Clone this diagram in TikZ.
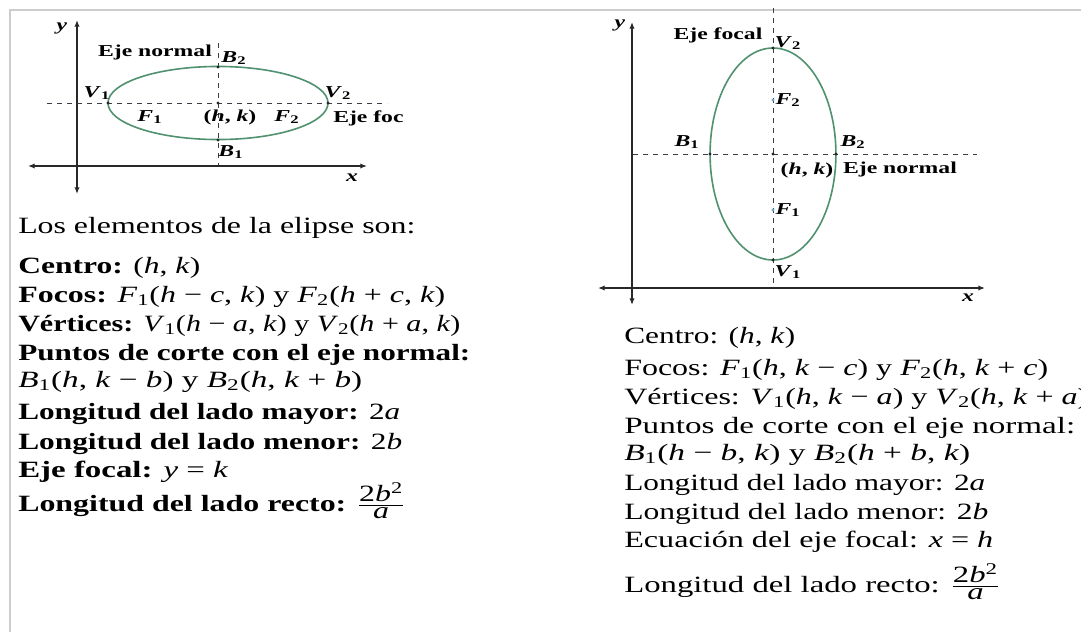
\documentclass[tikz,border=0pt]{standalone}
\usepackage{fontspec}
\setmainfont{Liberation Serif}
\usetikzlibrary{arrows.meta}
\definecolor{ellgreen}{RGB}{80,145,112}
\definecolor{framegray}{RGB}{205,205,205}
\definecolor{axisgray}{RGB}{40,40,40}
\definecolor{dashgray}{RGB}{60,60,70}
\definecolor{focblue}{RGB}{110,165,200}
\newdimen\pxu \pxu=0.75pt
\newcommand\mi[1]{\textit{#1}}
\newcommand\sbs[1]{\textsubscript{#1}}
\newcommand\fr[2]{$\frac{\mbox{#1}}{\mbox{#2}}$}
\newcommand\FW[2]{\resizebox{#1\pxu}{\height}{#2}}
\newcommand\DS[1]{\scalebox{1.42}[1]{#1}}
\tikzset{
  lt/.style={anchor=base west, inner sep=0pt, font=\fontsize{17.5}{20}\selectfont},
  dl/.style={inner sep=0pt, font=\fontsize{12.5}{14}\selectfont\bfseries},
  axisline/.style={axisgray, line width=1.1pt, {Latex[length=5pt,width=4pt]}-{Latex[length=5pt,width=4pt]}},
  dashline/.style={dashgray, line width=0.75pt, dash pattern=on 4pt off 3.5pt},
  ell/.style={ellgreen, line width=1.2pt},
  pt/.style={fill=axisgray},
}
\begin{document}
\begin{tikzpicture}[x=0.75pt,y=-0.75pt]
\useasboundingbox (0,0) rectangle (1081,632);
\fill[white] (0,0) rectangle (1081,632);
% frame
\draw[framegray, line width=1.4pt] (10,632) -- (10,10) -- (1081,10);

% ---------- left diagram ----------
\coordinate (Lc) at (218,103);
\coordinate (LV1) at (108,103);
\coordinate (LV2) at (328,103);
\coordinate (LB2) at (218,67);
\coordinate (LB1) at (218,140);
\coordinate (Lyt) at (77,20);
\coordinate (Lyb) at (77,194);
\coordinate (Lxl) at (28,166);
\coordinate (Lxr) at (367,166);
\coordinate (Lhl) at (47,103);
\coordinate (Lhr) at (387,103);
\coordinate (Lvt) at (218,43);
\coordinate (Lvb) at (218,165);
\draw[axisline] (Lyb) -- (Lyt);
\draw[axisline] (Lxl) -- (Lxr);
\draw[dashline] (Lhl) -- (Lhr);
\draw[dashline] (Lvt) -- (Lvb);
\draw[ell] (Lc) ellipse[x radius=82.5pt, y radius=27.4pt];
\foreach \p in {LV1,LV2,LB1,LB2,Lc} \fill[pt] (\p) circle[radius=1.3pt];
\node[dl] (Ly) at (62,28) {\DS{\mi{y}}};
\node[dl] (Lx) at (352,178) {\DS{\mi{x}}};
\node[dl] (Len) at (155,52) {\DS{Eje normal}};
\node[dl] (LB2l) at (234,58) {\DS{\mi{B}\sbs{2}}};
\node[dl] (LV1l) at (97,93) {\DS{\mi{V}\sbs{1}}};
\node[dl] (LV2l) at (338,93) {\DS{\mi{V}\sbs{2}}};
\node[dl] (LF1l) at (150,117) {\DS{\mi{F}\sbs{1}}};
\node[dl] (Lhk) at (230,117) {\DS{(\mi{h}, \mi{k})}};
\node[dl] (LF2l) at (287,117) {\DS{\mi{F}\sbs{2}}};
\node[dl, anchor=west] (Lef) at (333,118) {\DS{Eje foc}};
\node[dl] (LB1l) at (231,152) {\DS{\mi{B}\sbs{1}}};

% ---------- right diagram ----------
\coordinate (Rc) at (773,154);
\coordinate (RV2) at (773,48);
\coordinate (RV1) at (773,260);
\coordinate (RF2) at (773,100);
\coordinate (RF1) at (773,210);
\coordinate (RB1) at (710,154);
\coordinate (RB2) at (836,154);
\coordinate (Ryt) at (632,22);
\coordinate (Ryb) at (632,305);
\coordinate (Rxl) at (598,288);
\coordinate (Rxr) at (985,288);
\coordinate (Rvt) at (773,8);
\coordinate (Rvb) at (773,287);
\coordinate (Rhl) at (633,154);
\coordinate (Rhr) at (977,154);
\draw[axisline] (Ryb) -- (Ryt);
\draw[axisline] (Rxl) -- (Rxr);
\draw[dashline] (Rvt) -- (Rvb);
\draw[dashline] (Rhl) -- (Rhr);
\draw[ell] (Rc) ellipse[x radius=47.2pt, y radius=79.5pt];
\foreach \p in {RV1,RV2,RB1,RB2,Rc} \fill[pt] (\p) circle[radius=1.3pt];
\foreach \p in {RF1,RF2} \fill[focblue] (\p) circle[radius=1.3pt];
\node[dl] (Ry) at (620,25) {\DS{\mi{y}}};
\node[dl] (Rx) at (968,298) {\DS{\mi{x}}};
\node[dl] (Ref) at (718,35) {\DS{Eje focal}};
\node[dl] (RV2l) at (788,43) {\DS{\mi{V}\sbs{2}}};
\node[dl] (RF2l) at (788,100) {\DS{\mi{F}\sbs{2}}};
\node[dl] (RB1l) at (687,142) {\DS{\mi{B}\sbs{1}}};
\node[dl] (RB2l) at (853,142) {\DS{\mi{B}\sbs{2}}};
\node[dl] (Rhk) at (807,170) {\DS{(\mi{h}, \mi{k})}};
\node[dl] (Ren) at (900,169) {\DS{Eje normal}};
\node[dl] (RF1l) at (788,210) {\DS{\mi{F}\sbs{1}}};
\node[dl] (RV1l) at (788,272) {\DS{\mi{V}\sbs{1}}};

% ---------- left text ----------
\node[lt] (l0) at (18,233) {\FW{397}{Los elementos de la elipse son:}};
\node[lt] (l1) at (18,273) {\FW{182}{\textbf{Centro:} (\mi{h}, \mi{k})}};
\node[lt] (l2) at (18,302) {\FW{427}{\textbf{Focos:} \mi{F}\sbs{1}(\mi{h} − \mi{c}, \mi{k}) y \mi{F}\sbs{2}(\mi{h} + \mi{c}, \mi{k})}};
\node[lt] (l3) at (18,331) {\FW{442}{\textbf{Vértices:} \mi{V}\sbs{1}(\mi{h} − \mi{a}, \mi{k}) y \mi{V}\sbs{2}(\mi{h} + \mi{a}, \mi{k})}};
\node[lt] (l4) at (18,360) {\FW{452}{\textbf{Puntos de corte con el eje normal:}}};
\node[lt] (l5) at (18,387) {\FW{344}{\mi{B}\sbs{1}(\mi{h}, \mi{k} − \mi{b}) y \mi{B}\sbs{2}(\mi{h}, \mi{k} + \mi{b})}};
\node[lt] (l6) at (18,419) {\FW{382}{\textbf{Longitud del lado mayor:} 2\mi{a}}};
\node[lt] (l7) at (18,449) {\FW{384}{\textbf{Longitud del lado menor:} 2\mi{b}}};
\node[lt] (l8) at (18,477) {\FW{210}{\textbf{Eje focal:} \mi{y} = \mi{k}}};
\node[lt] (l9) at (18,511) {\FW{387}{\textbf{Longitud del lado recto:} \fr{2\mi{b}\textsuperscript{2}}{\mi{a}}}};

% ---------- right text ----------
\node[lt] (r1) at (624,343) {\FW{171}{Centro: (\mi{h}, \mi{k})}};
\node[lt] (r2) at (624,375) {\FW{424}{Focos: \mi{F}\sbs{1}(\mi{h}, \mi{k} − \mi{c}) y \mi{F}\sbs{2}(\mi{h}, \mi{k} + \mi{c})}};
\node[lt] (r3) at (624,404) {\FW{464}{Vértices: \mi{V}\sbs{1}(\mi{h}, \mi{k} − \mi{a}) y \mi{V}\sbs{2}(\mi{h}, \mi{k} + \mi{a})}};
\node[lt] (r4) at (624,433) {\FW{451}{Puntos de corte con el eje normal:}};
\node[lt] (r5) at (624,460) {\FW{346}{\mi{B}\sbs{1}(\mi{h} − \mi{b}, \mi{k}) y \mi{B}\sbs{2}(\mi{h} + \mi{b}, \mi{k})}};
\node[lt] (r6) at (624,490) {\FW{361}{Longitud del lado mayor: 2\mi{a}}};
\node[lt] (r7) at (624,519) {\FW{364}{Longitud del lado menor: 2\mi{b}}};
\node[lt] (r8) at (624,547) {\FW{369}{Ecuación del eje focal: \mi{x} = \mi{h}}};
\node[lt] (r9) at (624,592) {\FW{376}{Longitud del lado recto: \fr{2\mi{b}\textsuperscript{2}}{\mi{a}}}};
\end{tikzpicture}
\end{document}
